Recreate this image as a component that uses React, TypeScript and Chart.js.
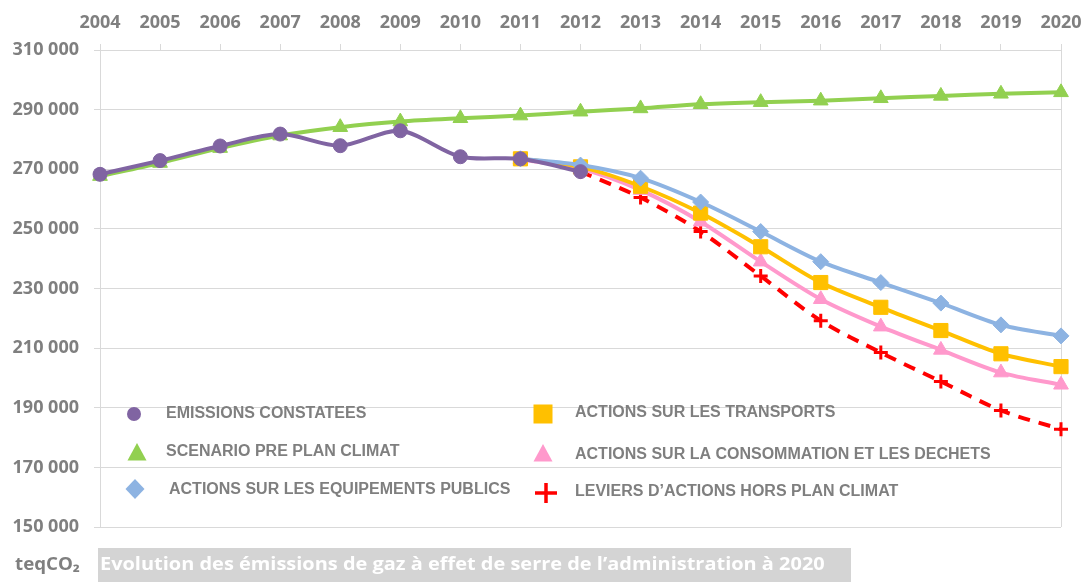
import React, { useEffect, useRef } from "react";
import { Chart, registerables } from "chart.js";

Chart.register(...registerables);

const years = ["2004","2005","2006","2007","2008","2009","2010","2011","2012","2013","2014","2015","2016","2017","2018","2019","2020"];

const emissionsConstatees = [268300, 272900, 277800, 281800, 277900, 282900, 274200, 273500, 269200, null, null, null, null, null, null, null, null];
const scenarioPrePlan = [267700, 272100, 277100, 281300, 284100, 286000, 287100, 288000, 289300, 290400, 291800, 292500, 293000, 293800, 294600, 295300, 295800];
const equipementsPublics = [null, null, null, null, null, null, null, 273500, 271400, 267000, 259000, 249100, 239000, 232000, 225100, 217800, 214100];
const transports = [null, null, null, null, null, null, null, 273500, 270800, 264300, 255300, 244000, 232000, 223700, 215900, 208100, 203800];
const consommationDechets = [null, null, null, null, null, null, null, 273300, 270200, 263000, 252400, 239000, 226400, 217200, 209400, 201800, 197700];
const leviersHorsPlan = [null, null, null, null, null, null, null, null, 269200, 260500, 249100, 234200, 219200, 208500, 198800, 189100, 182800];

const yTicks = [150000, 170000, 190000, 210000, 230000, 250000, 270000, 290000, 310000];

const legendLabels = [
  "EMISSIONS CONSTATEES",
  "SCENARIO PRE PLAN CLIMAT",
  "ACTIONS SUR LES EQUIPEMENTS PUBLICS",
  "ACTIONS SUR LES TRANSPORTS",
  "ACTIONS SUR LA CONSOMMATION ET LES DECHETS",
  "LEVIERS D\u2019ACTIONS HORS PLAN CLIMAT",
];

const COLORS = {
  purple: "#8064a2",
  green: "#92d050",
  blue: "#8db3e2",
  yellow: "#ffc000",
  pink: "#ff99cc",
  red: "#ff0000",
};

const GRID = "#d9d9d9";
const TEXT = "#7f7f7f";

function fmt(v: number) {
  const s = Math.round(v).toString();
  return s.slice(0, s.length - 3) + " " + s.slice(s.length - 3);
}

const legendPlugin = {
  id: "customLegend",
  afterDraw(chart: any) {
    const ctx = chart.ctx as CanvasRenderingContext2D;
    ctx.save();
    const items = [
      { mx: 134, my: 414, tx: 166, ty: 414, shape: "circle", color: COLORS.purple },
      { mx: 137, my: 452, tx: 166, ty: 452, shape: "triangle", color: COLORS.green },
      { mx: 135, my: 489, tx: 169, ty: 490, shape: "diamond", color: COLORS.blue },
      { mx: 543, my: 414, tx: 575, ty: 413, shape: "square", color: COLORS.yellow },
      { mx: 543, my: 453, tx: 575, ty: 455, shape: "triangle", color: COLORS.pink },
      { mx: 546, my: 493, tx: 575, ty: 492, shape: "cross", color: COLORS.red },
    ];
    items.forEach((it, i) => {
      ctx.fillStyle = it.color;
      ctx.strokeStyle = it.color;
      ctx.beginPath();
      if (it.shape === "circle") {
        ctx.arc(it.mx, it.my, 7, 0, Math.PI * 2);
        ctx.fill();
      } else if (it.shape === "triangle") {
        ctx.moveTo(it.mx, it.my - 9);
        ctx.lineTo(it.mx + 9.5, it.my + 8.5);
        ctx.lineTo(it.mx - 9.5, it.my + 8.5);
        ctx.closePath();
        ctx.fill();
      } else if (it.shape === "diamond") {
        ctx.moveTo(it.mx, it.my - 10);
        ctx.lineTo(it.mx + 9.5, it.my);
        ctx.lineTo(it.mx, it.my + 10);
        ctx.lineTo(it.mx - 9.5, it.my);
        ctx.closePath();
        ctx.fill();
      } else if (it.shape === "square") {
        ctx.fillRect(it.mx - 9.5, it.my - 9.5, 19, 19);
      } else if (it.shape === "cross") {
        ctx.lineWidth = 3.5;
        ctx.moveTo(it.mx - 11, it.my);
        ctx.lineTo(it.mx + 11, it.my);
        ctx.moveTo(it.mx, it.my - 10);
        ctx.lineTo(it.mx, it.my + 10);
        ctx.stroke();
      }
      ctx.fillStyle = TEXT;
      ctx.font = 'bold 16px "Liberation Sans", Arial, sans-serif';
      ctx.textAlign = "left";
      ctx.textBaseline = "middle";
      ctx.fillText(legendLabels[i], it.tx, it.ty);
    });
    ctx.restore();
  },
};

export default function App() {
  const canvasRef = useRef<HTMLCanvasElement | null>(null);

  useEffect(() => {
    if (!canvasRef.current) return;
    const common = { borderWidth: 4, tension: 0.3, clip: false as any, spanGaps: false, pointBorderWidth: 1 };
    const chart = new Chart(canvasRef.current, {
      type: "line",
      data: {
        labels: years,
        datasets: [
          {
            ...common,
            label: legendLabels[0],
            data: emissionsConstatees,
            borderColor: COLORS.purple,
            backgroundColor: COLORS.purple,
            pointBorderColor: COLORS.purple,
            pointStyle: "circle",
            pointRadius: 7,
            order: 0,
          },
          {
            ...common,
            label: legendLabels[1],
            data: scenarioPrePlan,
            borderColor: COLORS.green,
            backgroundColor: COLORS.green,
            pointBorderColor: COLORS.green,
            pointStyle: "triangle",
            pointRadius: 8.5,
            order: 5,
          },
          {
            ...common,
            label: legendLabels[2],
            data: equipementsPublics,
            borderColor: COLORS.blue,
            backgroundColor: COLORS.blue,
            pointBorderColor: COLORS.blue,
            pointStyle: "rectRot",
            pointRadius: 8,
            order: 1,
          },
          {
            ...common,
            label: legendLabels[3],
            data: transports,
            borderColor: COLORS.yellow,
            backgroundColor: COLORS.yellow,
            pointBorderColor: COLORS.yellow,
            pointStyle: "rect",
            pointRadius: 10,
            order: 2,
          },
          {
            ...common,
            label: legendLabels[4],
            data: consommationDechets,
            borderColor: COLORS.pink,
            backgroundColor: COLORS.pink,
            pointBorderColor: COLORS.pink,
            pointStyle: "triangle",
            pointRadius: 8.5,
            order: 3,
          },
          {
            ...common,
            label: legendLabels[5],
            data: leviersHorsPlan,
            borderColor: COLORS.red,
            backgroundColor: COLORS.red,
            pointBorderColor: COLORS.red,
            pointStyle: "cross",
            pointRadius: 7,
            pointBorderWidth: 3,
            borderDash: [12, 9],
            order: 4,
          },
        ] as any,
      },
      options: {
        responsive: false,
        animation: false,
        events: [],
        layout: { padding: { left: 0, right: 22, top: 0, bottom: 55 } },
        plugins: {
          legend: { display: false },
          tooltip: { enabled: false },
          title: { display: false },
        },
        scales: {
          x: {
            type: "category",
            position: "top",
            offset: false,
            afterFit: (scale: any) => {
              scale.height = 50;
              scale.paddingLeft = 0;
              scale.paddingRight = 0;
            },
            grid: {
              offset: false,
              drawOnChartArea: true,
              drawTicks: true,
              tickLength: 6,
              color: (c: any) => (c.index === 0 || c.index === years.length - 1 ? GRID : "rgba(0,0,0,0)"),
              tickColor: GRID,
            },
            border: { display: true, color: GRID },
            ticks: {
              color: TEXT,
              padding: 10,
              maxRotation: 0,
              autoSkip: false,
              font: { family: '"Open Sans", sans-serif', size: 18, weight: "bold" },
            },
          },
          y: {
            type: "linear",
            min: yTicks[0],
            max: yTicks[yTicks.length - 1],
            afterFit: (scale: any) => {
              scale.width = 100;
              scale.paddingTop = 0;
              scale.paddingBottom = 0;
            },
            afterBuildTicks: (scale: any) => {
              scale.ticks = yTicks.map((v) => ({ value: v }));
            },
            grid: { color: GRID, tickLength: 6, tickColor: GRID },
            border: { display: true, color: GRID },
            ticks: {
              color: TEXT,
              padding: 15,
              font: { family: '"Open Sans", sans-serif', size: 18, weight: "bold" },
              callback: (v: any) => fmt(Number(v)),
            },
          },
        },
      } as any,
      plugins: [legendPlugin],
    });
    return () => chart.destroy();
  }, []);

  return (
    <div style={{ position: "absolute", left: 0, top: 0, width: 1083, height: 582, background: "#ffffff", overflow: "hidden" }}>
      <canvas ref={canvasRef} width={1083} height={582} style={{ display: "block", width: 1083, height: 582 }} />
      <div
        style={{
          position: "absolute",
          left: 15,
          top: 553,
          fontFamily: '"Open Sans", sans-serif',
          fontWeight: 700,
          fontSize: 18,
          lineHeight: "20px",
          color: TEXT,
          whiteSpace: "nowrap",
          transform: "scaleX(1.04)",
          transformOrigin: "left center",
        }}
      >
        teqCO₂
      </div>
      <div
        style={{
          position: "absolute",
          left: 98,
          top: 548,
          width: 753,
          height: 34,
          background: "#d4d4d4",
          overflow: "hidden",
        }}
      >
        <div
          style={{
            position: "absolute",
            left: 2,
            top: 0,
            color: "#ffffff",
            fontFamily: '"Open Sans", sans-serif',
            fontWeight: 700,
            fontSize: 17.5,
            lineHeight: "30px",
            whiteSpace: "nowrap",
            transform: "scaleX(1.14)",
            transformOrigin: "left center",
          }}
        >
          Evolution des émissions de gaz à effet de serre de l’administration à 2020
        </div>
      </div>
    </div>
  );
}
